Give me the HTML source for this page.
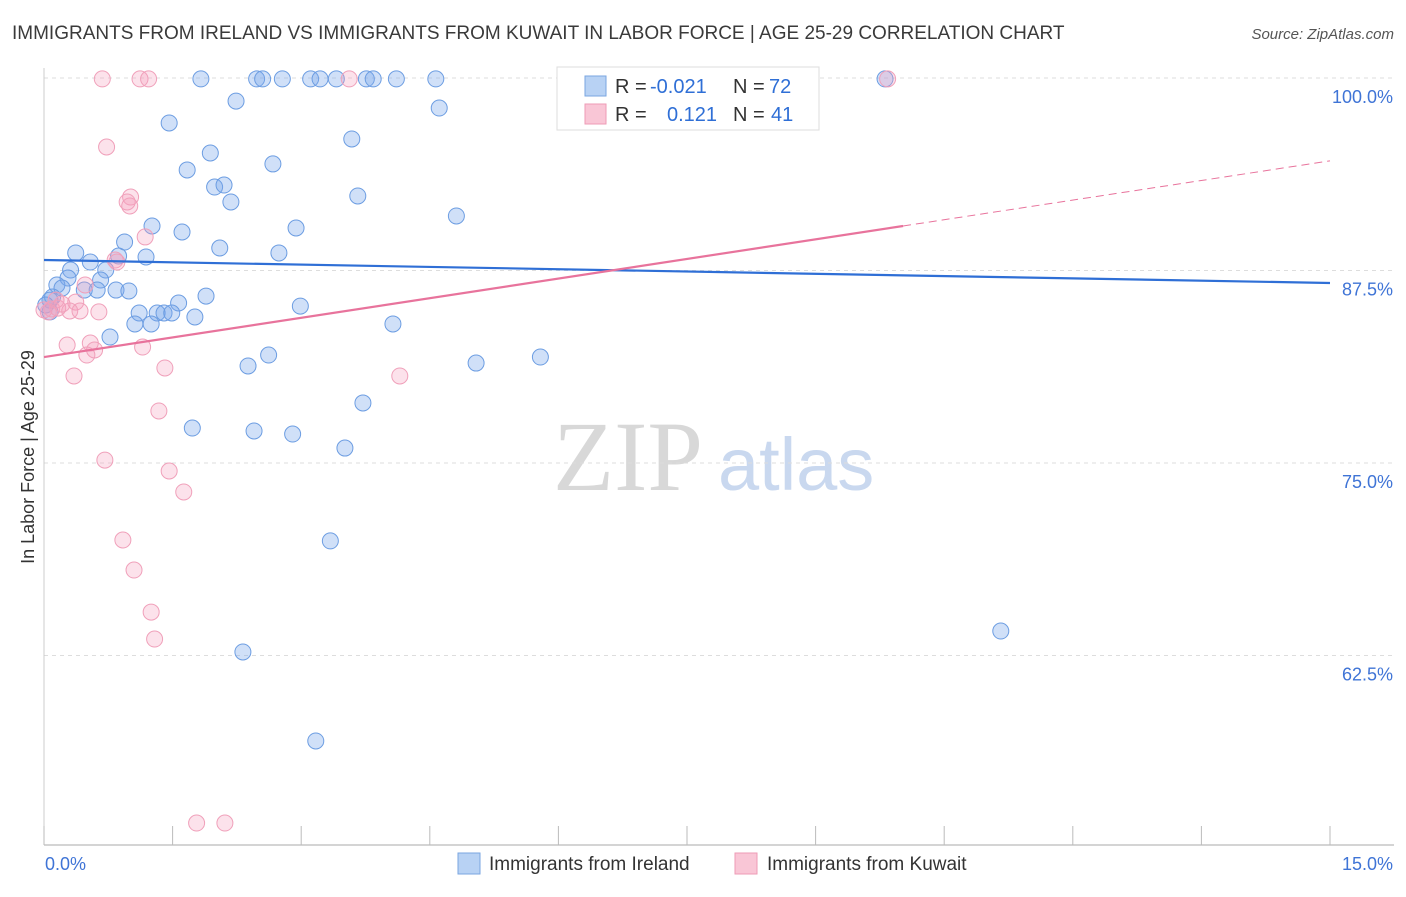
<!DOCTYPE html>
<html><head><meta charset="utf-8"><style>
body{margin:0;background:#fff;font-family:"Liberation Sans",sans-serif;}
svg text{font-family:"Liberation Sans",sans-serif;}
</style></head><body>
<svg id="chart" width="1406" height="892" xmlns="http://www.w3.org/2000/svg">
<text x="12" y="39" font-size="19" fill="#3a3a3a">IMMIGRANTS FROM IRELAND VS IMMIGRANTS FROM KUWAIT IN LABOR FORCE | AGE 25-29 CORRELATION CHART</text>
<text x="1394" y="39" font-size="15" fill="#555" font-style="italic" text-anchor="end">Source: ZipAtlas.com</text>
<text transform="translate(34,457) rotate(-90)" font-size="18" fill="#333" text-anchor="middle">In Labor Force | Age 25-29</text>
<g>
<text x="553" y="490" font-size="100" fill="#d8d8d8" style="font-family:'Liberation Serif',serif">ZIP</text>
<text x="718" y="490" font-size="74" fill="#c9d8ef">atlas</text>
</g>
<g id="grid"></g><g id="axes"></g><g id="pts"></g><g id="lines"></g>
<g>
<rect x="557" y="67" width="262" height="63" fill="#fff" stroke="#ddd"/>
<rect x="585" y="76" width="21" height="20" fill="#b8d2f4" stroke="#7aa6e0"/>
<rect x="585" y="104" width="21" height="20" fill="#f9c6d6" stroke="#ee9bb6"/>
<text x="615" y="93" font-size="20" fill="#333">R = <tspan fill="#2f6fd6" x="650">-0.021</tspan><tspan x="733" fill="#333">N =</tspan><tspan x="769" fill="#2f6fd6">72</tspan></text>
<text x="615" y="121" font-size="20" fill="#333">R = <tspan fill="#2f6fd6" x="667">0.121</tspan><tspan x="733" fill="#333">N =</tspan><tspan x="771" fill="#2f6fd6">41</tspan></text>
</g>
<g>
<rect x="458" y="853" width="22" height="21" fill="#b8d2f4" stroke="#7aa6e0"/>
<text x="489" y="870" font-size="19" fill="#333">Immigrants from Ireland</text>
<rect x="735" y="853" width="22" height="21" fill="#f9c6d6" stroke="#ee9bb6"/>
<text x="767" y="870" font-size="19" fill="#333">Immigrants from Kuwait</text>
</g>
</svg>
<script>
const xTicksPct=[0,1.5,3,4.5,6,7.5,9,10.5,12,13.5,15];
const yTicks=[100,87.5,75,62.5];
const yTickLabels=["100.0%","87.5%","75.0%","62.5%"];
const xEndLabels=["0.0%","15.0%"];
const irelandX=[1.83,2.48,2.55,2.78,3.11,3.22,3.41,3.76,3.84,4.11,4.57,9.81,2.24,4.61,1.46,3.59,1.94,2.67,1.67,1.99,2.10,2.18,3.66,4.81,1.26,1.61,2.94,0.94,2.05,0.37,0.54,1.19,2.74,0.87,0.31,0.28,0.72,0.66,0.15,0.21,0.47,0.62,0.84,0.99,1.89,0.10,0.07,1.57,2.99,1.11,1.32,1.40,1.49,1.76,1.06,1.25,4.07,0.77,2.62,5.79,2.38,5.04,3.72,1.73,2.45,2.90,3.51,3.34,11.16,2.32,3.17,0.07,0.02];
const irelandY=[99.94,99.94,99.94,99.94,99.94,99.94,99.94,99.94,99.94,99.94,99.94,99.94,98.5,98.05,97.08,96.04,95.13,94.42,94.03,92.92,93.05,91.95,92.34,91.04,90.39,90.0,90.26,89.35,88.96,88.64,88.05,88.38,88.64,88.44,87.53,87.01,87.53,86.88,86.56,86.36,86.23,86.23,86.23,86.17,85.84,85.78,85.58,85.39,85.19,84.74,84.74,84.74,84.74,84.48,84.03,84.03,84.03,83.18,82.01,81.88,81.30,81.49,78.90,77.27,77.08,76.88,75.97,69.94,64.09,62.73,56.95,84.81,85.26];
const kuwaitX=[0.68,1.12,1.22,3.56,9.84,0.73,1.01,0.97,1.00,1.18,0.83,0.85,0.48,0.37,0.16,0.30,0.42,0.64,0.05,0.09,0.27,0.54,0.59,0.50,1.15,0.35,1.41,4.15,1.34,0.71,1.46,1.63,0.92,1.05,1.25,1.29,1.78,2.11,0,0.14,0.21];
const kuwaitY=[99.94,99.94,99.94,99.94,99.94,95.52,92.27,91.95,91.69,89.68,88.18,88.05,86.56,85.45,85.06,84.87,84.87,84.81,84.81,85.0,82.66,82.79,82.34,82.01,82.53,80.65,81.17,80.65,78.38,75.19,74.48,73.12,70.0,68.05,65.32,63.57,51.62,51.62,84.94,85.58,85.32];
const irelandTrend=[88.18,86.69];
const kuwaitTrend=[81.88,90.39];
const kuwaitSolidEnd=10.02;

const NS="http://www.w3.org/2000/svg";
const X=v=>44+v*(1286/15);
const Y=v=>78+(100-v)*15.4;
function mk(tag,attrs,parent){const e=document.createElementNS(NS,tag);for(const k in attrs)e.setAttribute(k,attrs[k]);parent.appendChild(e);return e;}
const grid=document.getElementById('grid'),axes=document.getElementById('axes'),pts=document.getElementById('pts'),lines=document.getElementById('lines');
yTicks.forEach((v,i)=>{
 const l=mk('line',{x1:44,x2:1394,y1:Y(v),y2:Y(v),stroke:'#ddd','stroke-dasharray':'4,4'},grid);
 
 
 const t=mk('text',{x:1393,y:Y(v)+25,'font-size':18,fill:'#3f74d6','text-anchor':'end'},axes);
 t.textContent=yTickLabels[i];
 
 
});
const xa=mk('line',{x1:44,x2:1394,y1:845,y2:845,stroke:'#aaa'},axes);


const ya=mk('line',{x1:44,x2:44,y1:68,y2:845,stroke:'#ccc'},axes);


xTicksPct.forEach(v=>{
 const t=mk('line',{x1:X(v),x2:X(v),y1:826,y2:845,stroke:'#bbb'},axes);
 
 
});
[[0,'start',45],[15,'end',1393]].forEach((a,i)=>{
 const t=mk('text',{x:a[2],y:870,'font-size':18,fill:'#3f74d6','text-anchor':a[1]},axes);
 t.textContent=xEndLabels[i];
 
 
});
irelandX.forEach((x,i)=>{
 const c=mk('circle',{cx:X(x),cy:Y(irelandY[i]),r:8,fill:'rgba(120,165,235,0.35)',stroke:'#6c9de2','stroke-width':1},pts);
 
 
});
kuwaitX.forEach((x,i)=>{
 const c=mk('circle',{cx:X(x),cy:Y(kuwaitY[i]),r:8,fill:'rgba(245,160,190,0.3)',stroke:'#f0a0ba','stroke-width':1},pts);
 
 
});
const bl=mk('line',{x1:X(0),y1:Y(irelandTrend[0]),x2:X(15),y2:Y(irelandTrend[1]),stroke:'#2f6fd6','stroke-width':2.2},lines);


const slope=(kuwaitTrend[1]-kuwaitTrend[0])/kuwaitSolidEnd;
const pl=mk('line',{x1:X(0),y1:Y(kuwaitTrend[0]),x2:X(kuwaitSolidEnd),y2:Y(kuwaitTrend[1]),stroke:'#e8739c','stroke-width':2.2},lines);


const pd=mk('line',{x1:X(kuwaitSolidEnd),y1:Y(kuwaitTrend[1]),x2:X(15),y2:Y(kuwaitTrend[0]+slope*15),stroke:'#e8739c','stroke-width':1,'stroke-dasharray':'8,5'},lines);


</script>
</body></html>
